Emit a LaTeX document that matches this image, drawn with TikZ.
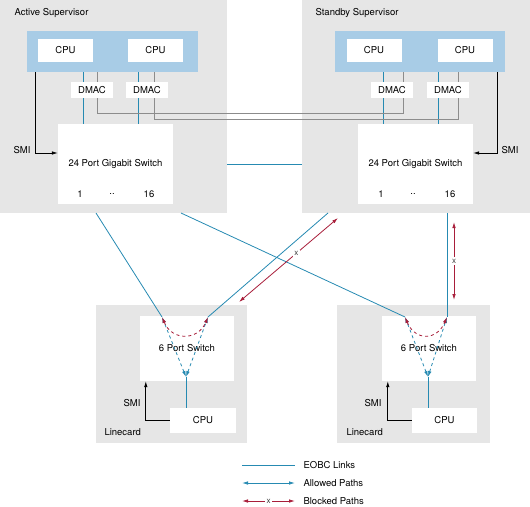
\documentclass[tikz,border=0pt]{standalone}
\usepackage{fontspec}
\setmainfont{TeX Gyre Heros}
\usetikzlibrary{arrows.meta,calc}

\definecolor{bggray}{RGB}{230,230,230}
\definecolor{barblue}{RGB}{168,204,230}
\definecolor{linkblue}{RGB}{38,138,178}
\definecolor{blockred}{RGB}{168,30,58}
\definecolor{ctrlgray}{RGB}{140,140,140}

\begin{document}
\begin{tikzpicture}[x=1pt,y=-1pt,>={Latex[length=6pt,width=3.5pt]},
  font=\fontsize{9.5}{11}\selectfont,
  area/.style={fill=bggray,inner sep=0pt},
  bar/.style={fill=barblue,inner sep=0pt,minimum height=41pt},
  box/.style={fill=white,inner sep=0pt},
  cpubox/.style={box,minimum width=55pt,minimum height=23pt},
  dmacbox/.style={box,minimum width=42pt,minimum height=16pt},
  swbox/.style={box,minimum width=115pt,minimum height=80pt},
  lcbox/.style={box,minimum width=94pt,minimum height=65pt},
  link/.style={linkblue,line width=0.8pt},
  allowed/.style={linkblue,line width=0.8pt,dashed},
  blocked/.style={blockred,line width=0.8pt},
  ctrl/.style={ctrlgray,line width=0.7pt},
  smi/.style={black,line width=0.7pt,->},
  xmark/.style={fill=white,text=black!75,inner sep=1.5pt,font=\fontsize{8}{9}\selectfont}]
\useasboundingbox (0,0) rectangle (530,506);

% supervisors
\node[area,minimum width=227pt,minimum height=213pt] (asup) at (113.5,106.5) {};
\node[area,minimum width=228pt,minimum height=213pt] (ssup) at (416,106.5) {};
\node[anchor=west] (alabel) at (11,13) {Active Supervisor};
\node[anchor=west] (slabel) at (312,13) {Standby Supervisor};

\node[bar,minimum width=171pt] (abar) at (112.5,51.5) {};
\node[bar,minimum width=170pt] (sbar) at (420,51.5) {};
\node[cpubox] (acpu1) at (65.5,50.5) {CPU};
\node[cpubox] (acpu2) at (155.5,50.5) {CPU};
\node[cpubox] (scpu1) at (374,50.5) {CPU};
\node[cpubox] (scpu2) at (465,50.5) {CPU};

\node[swbox] (asw) at (115.5,164) {24 Port Gigabit Switch};
\node[swbox] (ssw) at (415.5,164) {24 Port Gigabit Switch};
\node (ap1lbl) at (80,194) {1};
\node (apdots) at (112,194) {..};
\node (ap16lbl) at (149,194) {16};
\node (sp1lbl) at (381,194) {1};
\node (spdots) at (413,194) {..};
\node (sp16lbl) at (450,194) {16};

% bar to switch
\coordinate (ab1) at (83,72);
\coordinate (ab2) at (138,72);
\coordinate (sb1) at (383,72);
\coordinate (sb2) at (438,72);
\draw[link] (ab1) -- (ab1 |- asw.north);
\draw[link] (ab2) -- (ab2 |- asw.north);
\draw[link] (sb1) -- (sb1 |- ssw.north);
\draw[link] (sb2) -- (sb2 |- ssw.north);

\coordinate (ag1) at (97,72);
\coordinate (ag2) at (154,72);
\coordinate (sg1) at (403,72);
\coordinate (sg2) at (458,72);
\draw[ctrl] (ag1) -- ++(0,41) -| (sg1);
\draw[ctrl] (ag2) -- ++(0,47) -| (sg2);

\node[dmacbox] (adm1) at (92,90) {DMAC};
\node[dmacbox] (adm2) at (147,90) {DMAC};
\node[dmacbox] (sdm1) at (392,90) {DMAC};
\node[dmacbox] (sdm2) at (448,90) {DMAC};

% SMI
\coordinate (asmi) at (35,72);
\coordinate (ssmi) at (497,72);
\draw[smi] (asmi) |- ($(asw.west)+(0,-11)$);
\draw[smi] (ssmi) |- ($(ssw.east)+(0,-11)$);
\node[anchor=east] (asmilbl) at (34,150) {SMI};
\node[anchor=west] (ssmilbl) at (498,150) {SMI};

% linecards
\node[area,minimum width=151pt,minimum height=138pt] (lcard) at (171.5,374) {};
\node[area,minimum width=153pt,minimum height=138pt] (rcard) at (413.5,374) {};
\node[lcbox] (lsw) at (187,348.5) {6 Port Switch};
\node[lcbox] (rsw) at (429,348.5) {6 Port Switch};
\node[box,minimum width=66pt,minimum height=25pt] (lcpu) at (203,420.5) {CPU};
\node[box,minimum width=65pt,minimum height=25pt] (rcpu) at (444.5,420.5) {CPU};
\node[anchor=west] (llabel) at (101,432) {Linecard};
\node[anchor=west] (rlabel) at (343,432) {Linecard};

\draw[smi] (lcpu.west) -| ($(lsw.south west)+(6,0)$);
\draw[smi] (rcpu.west) -| ($(rsw.south west)+(6,0)$);
\node (lsmilbl) at (132,403) {SMI};
\node (rsmilbl) at (373,403) {SMI};

% EOBC links
\coordinate (ap1) at (96,213);
\coordinate (ap16) at (181,213);
\coordinate (sp1) at (328,213);
\coordinate (sp16) at (447,213);
\coordinate (lp1) at (162,317);
\coordinate (lp2) at (208,317);
\coordinate (lj) at (186,377);
\coordinate (rp1) at (405,317);
\coordinate (rp2) at (447,317);
\coordinate (rj) at (428,377);

\draw[link] (asup.east |- asw) -- (ssup.west |- ssw);
\draw[link] (ap1) -- (lp1);
\draw[link] (ap16) -- (rp1);
\draw[link] (sp1) -- (lp2);
\draw[link] (sp16) -- (rp2);

% blocked between supervisor and linecard
\coordinate (bla) at (338,218);
\coordinate (blb) at (239,302);
\coordinate (bra) at (454,222);
\coordinate (brb) at (454,300);
\draw[blocked,<->] (bla) -- node[pos=0.42,xmark] (blx) {x} (blb);
\draw[blocked,<->] (bra) -- node[xmark] (brx) {x} (brb);

% paths inside linecards
\draw[link] (lcpu.north -| lj) -- (lj);
\draw[link] (rcpu.north -| rj) -- (rj);
\draw[allowed,<->] (lj) -- (lp1);
\draw[allowed,<->] (lj) -- (lp2);
\draw[allowed,<->] (rj) -- (rp1);
\draw[allowed,<->] (rj) -- (rp2);
\draw[blocked,dashed,<->] (lp1) .. controls ($(lp1)+(10,24)$) and ($(lp2)+(-10,24)$) .. (lp2);
\draw[blocked,dashed,<->] (rp1) .. controls ($(rp1)+(10,24)$) and ($(rp2)+(-10,24)$) .. (rp2);

% legend
\coordinate (k1a) at (242,465);
\coordinate (k1b) at (295,465);
\coordinate (k2a) at (242,483);
\coordinate (k2b) at (295,483);
\coordinate (k3a) at (242,501);
\coordinate (k3b) at (295,501);
\draw[link] (k1a) -- (k1b);
\draw[link,<->] (k2a) -- (k2b);
\draw[blocked,<->] (k3a) -- node[xmark] (k3x) {x} (k3b);
\node[anchor=west] (k1lbl) at (300,465) {EOBC Links};
\node[anchor=west] (k2lbl) at (300,483) {Allowed Paths};
\node[anchor=west] (k3lbl) at (300,501) {Blocked Paths};
\end{tikzpicture}
\end{document}
